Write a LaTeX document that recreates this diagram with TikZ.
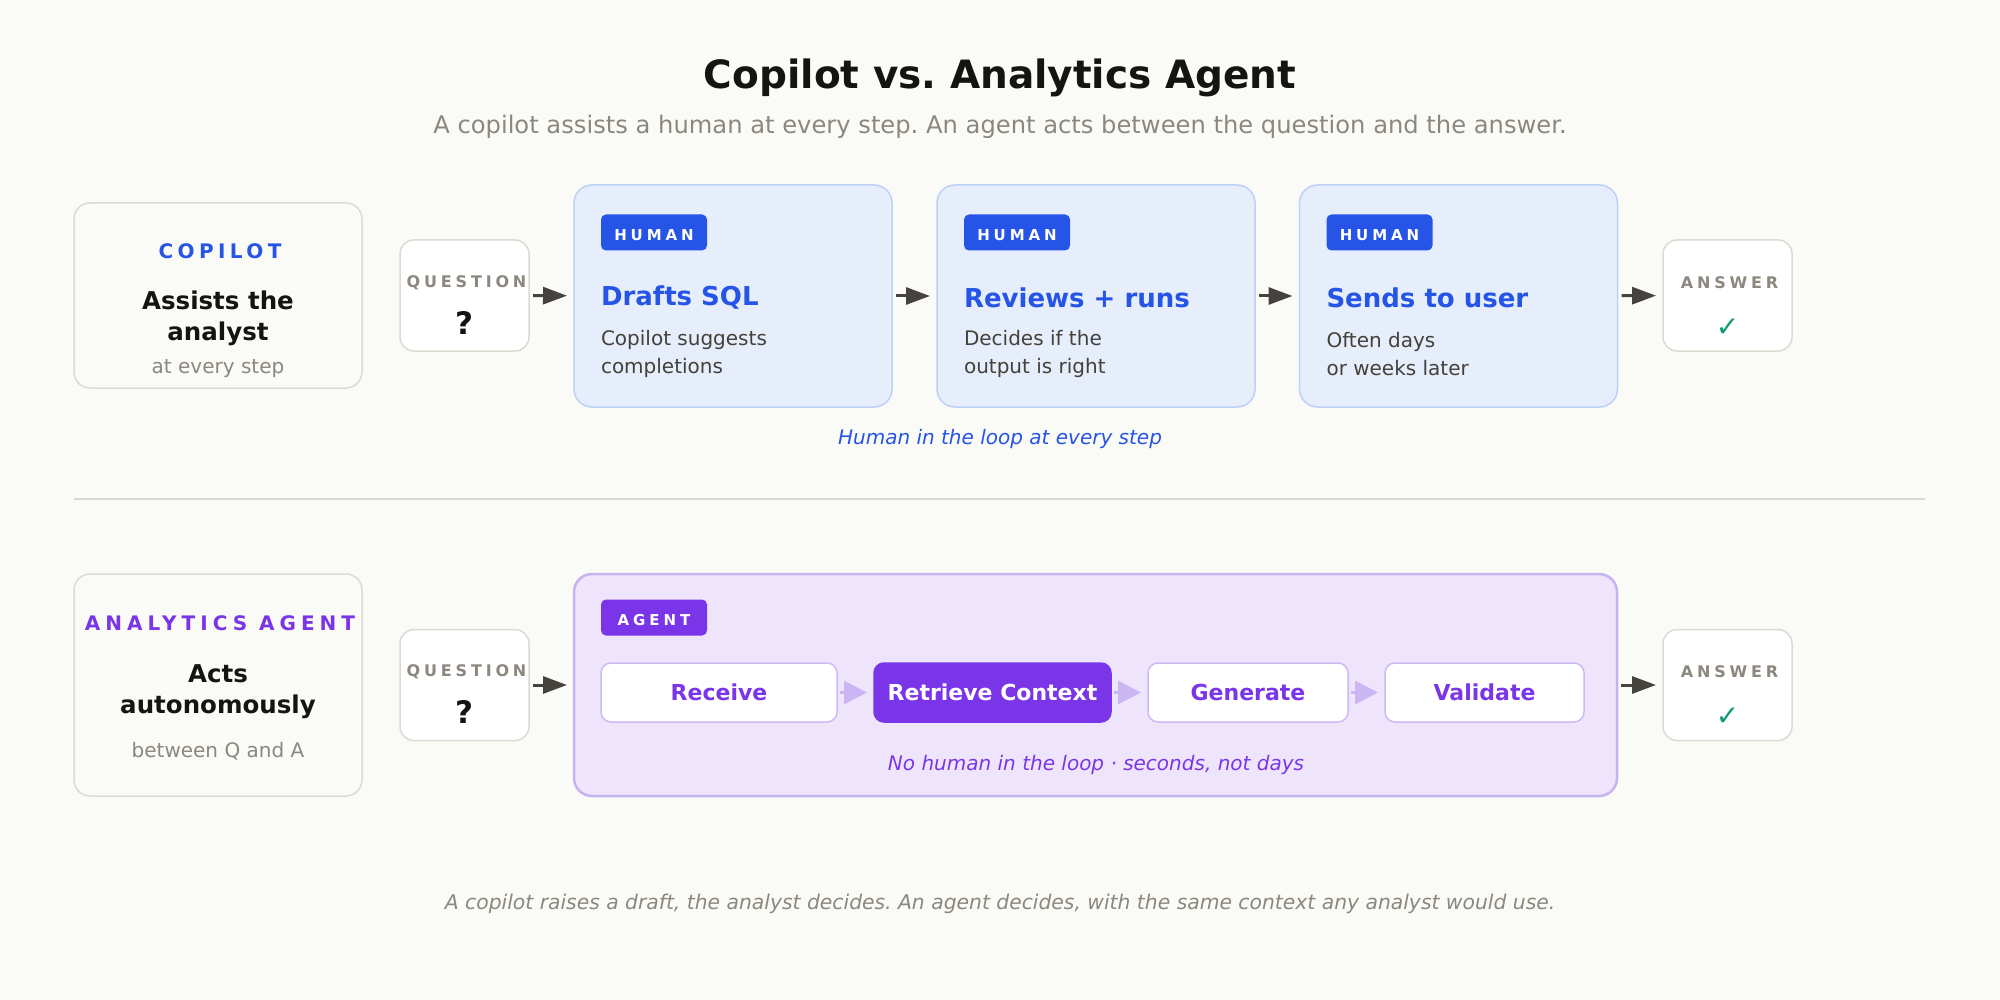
\documentclass[tikz,border=0pt]{standalone}
\usepackage{fontspec}
\setmainfont{DejaVu Sans}
\usetikzlibrary{arrows.meta}
\definecolor{bg}{HTML}{FAFAF6}
\definecolor{greyb}{HTML}{DEDAD2}
\definecolor{ink}{HTML}{161412}
\definecolor{greyt}{HTML}{8C877F}
\definecolor{desct}{HTML}{45403A}
\definecolor{blueA}{HTML}{2554E6}
\definecolor{bluefill}{HTML}{E6EEFB}
\definecolor{blueb}{HTML}{BDD0F7}
\definecolor{purA}{HTML}{7B35E8}
\definecolor{purfill}{HTML}{EEE5FC}
\definecolor{purb}{HTML}{C7B2F2}
\definecolor{stepb}{HTML}{CDB9F4}
\definecolor{lightarr}{HTML}{C9B6F2}
\definecolor{teal}{HTML}{129A77}
\definecolor{arrowc}{HTML}{46423D}
\definecolor{divc}{HTML}{DCD8D0}
\newcommand\fsz[2]{\fontsize{#1}{#2}\selectfont}
\frenchspacing
\begin{document}
\begin{tikzpicture}[x=1pt,y=-1pt,
  every node/.style={inner sep=0pt, outer sep=0pt},
  sidebox/.style={draw=greyb, fill=bg, line width=1.5pt, rounded corners=16pt, minimum width=288pt},
  qabox/.style={draw=greyb, fill=white, line width=1.5pt, rounded corners=14pt, minimum width=129pt, minimum height=111pt},
  humanbox/.style={draw=blueb, fill=bluefill, line width=1.5pt, rounded corners=18pt, minimum width=318pt, minimum height=222pt},
  badge/.style={fill=#1, rounded corners=5pt, minimum width=106pt, minimum height=36pt, text=white,
     text height=16pt, text depth=0pt,
     font=\fsz{15}{18}\bfseries\addfontfeature{LetterSpace=26}},
  tracked/.style={font=\fsz{20}{20}\bfseries\addfontfeature{LetterSpace=#1}},
  qlbl/.style={text=greyt, font=\fsz{16}{18}\bfseries\addfontfeature{LetterSpace=24}},
  qmark/.style={text=ink, font=\fsz{31}{34}\bfseries},
  cmark/.style={text=teal, font=\fsz{28}{30}},
  htitle/.style={anchor=west, text=blueA, font=\fsz{26}{30}\bfseries},
  hdesc/.style={anchor=west, align=left, text=desct, font=\fsz{20}{28}},
  stepbox/.style={draw=stepb, fill=white, line width=1.5pt, rounded corners=10pt, minimum height=59pt, text=purA, font=\fsz{22}{26}\bfseries},
  darrow/.style={draw=arrowc, line width=3pt, -{Triangle[length=24pt,width=17pt]}, shorten <=4pt, shorten >=7pt},
  larrow/.style={draw=lightarr, line width=3pt, -{Triangle[length=23pt,width=23pt]}, shorten <=3pt, shorten >=7pt}
]
\useasboundingbox[fill=bg] (0,0) rectangle (2000,1000);

% title
\node[text=ink, font=\fsz{39}{44}\bfseries] (title) at (1000,78) {Copilot vs. Analytics Agent};
\node[text=greyt, font=\fsz{24.2}{28}] (subtitle) at (1000,127) {A copilot assists a human at every step. An agent acts between the question and the answer.};

% ---------- row 1: copilot ----------
\node[sidebox, minimum height=185pt] (cop) at (218,295.5) {};
\node[tracked=22, text=blueA] (copl) at (220,251) {COPILOT};
\node[align=center, text=ink, font=\fsz{24.5}{31}\bfseries] (copt) at (218,318) {Assists the\\analyst};
\node[text=greyt, font=\fsz{20}{24}] (cops) at (218,369) {at every step};

\node[qabox] (q1) at (464.5,295.5) {};
\node[qlbl] (q1l) at (466.5,282.5) {QUESTION};
\node[qmark] (q1m) at (464.5,322.5) {?};

\node[humanbox] (h1) at (733,296) {};
\node[humanbox] (h2) at (1096,296) {};
\node[humanbox] (h3) at (1458.5,296) {};

\node[badge=blueA, anchor=west] (b1) at (601,232.5) {HUMAN};
\node[badge=blueA, anchor=west] (b2) at (964,232.5) {HUMAN};
\node[badge=blueA, anchor=west] (b3) at (1326.5,232.5) {HUMAN};

\node[htitle] (t1) at (601,298) {Drafts SQL};
\node[htitle] (t2) at (964,298) {Reviews + runs};
\node[htitle] (t3) at (1326.5,298) {Sends to user};

\node[hdesc] (d1) at (601,354) {Copilot suggests\\completions};
\node[hdesc] (d2) at (964,354) {Decides if the\\output is right};
\node[hdesc] (d3) at (1326.5,354) {Often days\\or weeks later};

\node[qabox] (a1) at (1727.5,295.5) {};
\node[qlbl] (a1l) at (1729.5,282.5) {ANSWER};
\node[cmark] (a1m) at (1727.5,327.5) {✓};

\draw[darrow] (q1) -- (h1);
\draw[darrow] (h1) -- (h2);
\draw[darrow] (h2) -- (h3);
\draw[darrow] (h3) -- (a1);

\node[text=blueA, font=\fsz{20}{24}\itshape] (hcap) at (1000,439) {Human in the loop at every step};

% divider
\coordinate (dl) at (74,499);
\coordinate (dr) at (1925,499);
\draw[divc, line width=1.5pt] (dl) -- (dr);

% ---------- row 2: agent ----------
\node[sidebox, minimum height=222pt] (ag) at (218,685) {};
\node[tracked=25, text=purA] (agl) at (220,623.5) {ANALYTICS AGENT};
\node[align=center, text=ink, font=\fsz{24.5}{31}\bfseries] (agt) at (218,692) {Acts\\autonomously};
\node[text=greyt, font=\fsz{20}{24}] (ags) at (218,751) {between Q and A};

\node[qabox] (q2) at (464.5,685) {};
\node[qlbl] (q2l) at (466.5,671.5) {QUESTION};
\node[qmark] (q2m) at (464.5,711.5) {?};

\node[draw=purb, fill=purfill, line width=2.5pt, rounded corners=18pt, minimum width=1043pt, minimum height=222pt] (big) at (1095.5,685) {};
\node[badge=purA, anchor=west] (ab) at (601,617.5) {AGENT};

\node[stepbox, minimum width=236pt] (s1) at (719,692.5) {Receive};
\node[stepbox, minimum width=237pt, fill=purA, draw=purA, text=white] (s2) at (992.5,692.5) {Retrieve Context};
\node[stepbox, minimum width=200pt] (s3) at (1248,692.5) {Generate};
\node[stepbox, minimum width=199pt] (s4) at (1484.5,692.5) {Validate};

\draw[larrow] (s1) -- (s2);
\draw[larrow] (s2) -- (s3);
\draw[larrow] (s3) -- (s4);

\node[text=purA, font=\fsz{20}{24}\itshape] (acap) at (1096,765) {No human in the loop · seconds, not days};

\node[qabox] (a2) at (1727.5,685) {};
\node[qlbl] (a2l) at (1729.5,671.5) {ANSWER};
\node[cmark] (a2m) at (1727.5,717) {✓};

\draw[darrow] (q2) -- (big);
\draw[darrow] (big) -- (a2);

% footer
\node[text=greyt, font=\fsz{20.3}{24}\itshape] (foot) at (1000,904) {A copilot raises a draft, the analyst decides. An agent decides, with the same context any analyst would use.};
\end{tikzpicture}
\end{document}
